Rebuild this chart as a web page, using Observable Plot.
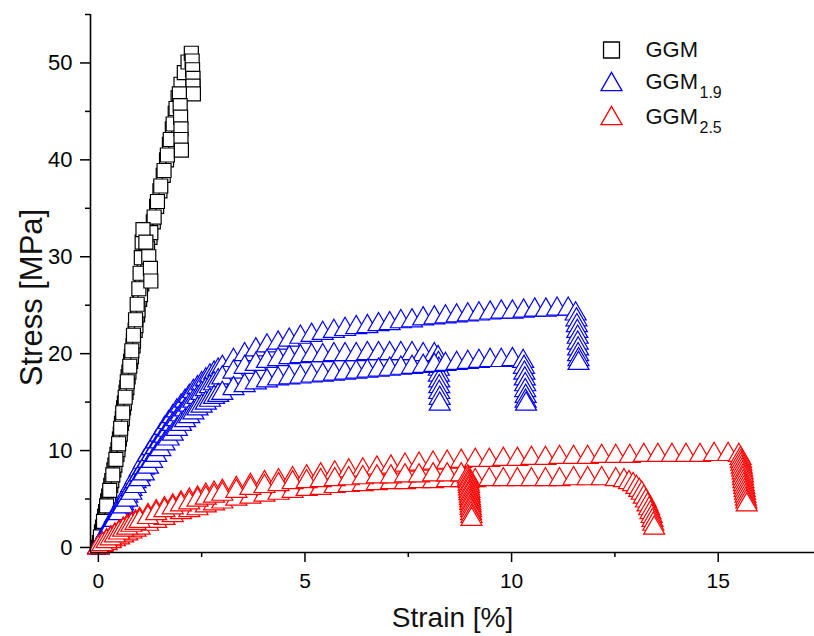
<!DOCTYPE html>
<html><head><meta charset="utf-8">
<script src="https://cdn.jsdelivr.net/npm/d3@7"></script>
<script src="https://cdn.jsdelivr.net/npm/@observablehq/plot@0.6"></script>
<style>body{margin:0;background:#fff}#chart svg{display:block}</style>
</head><body><div id="chart"></div>
<script>
// ---------- DATA (strain in %, stress in MPa) ----------
const ggmA_strain = [0,0.075,0.15,0.225,0.30,0.375,0.45,0.51,0.56,0.61,0.67,0.72,0.78,0.84,0.89,0.95,1.0,1.05,1.11,1.17,1.25,1.33,1.41,1.49,1.57,1.65,1.72,1.79,1.86,1.93,2.0,2.08,2.17,2.25,2.27,2.28,2.29,2.29,2.3];
const ggmA_stress = [0,1.6,3.2,4.8,6.4,8.0,9.6,11.2,12.8,14.4,16.0,17.6,19.2,20.8,22.4,24.0,25.6,27.2,28.8,30.4,32.0,33.6,35.2,36.8,38.4,40.0,41.6,43.2,44.8,46.4,47.8,49.0,50.1,51.0,50.2,49.3,48.4,47.6,46.8];
const ggmB_strain = [0.025,0.10,0.175,0.25,0.325,0.40,0.475,0.53,0.58,0.63,0.69,0.74,0.80,0.85,0.91,0.96,1.02,1.07,1.12,1.19,1.27,1.35,1.43,1.51,1.59,1.67,1.74,1.81,1.88,1.96,1.98,1.99,2.0,2.0,2.01];
const ggmB_stress = [0.5,2.1,3.7,5.3,6.9,8.5,10.1,11.7,13.3,14.9,16.5,18.1,19.7,21.3,22.9,24.5,26.1,27.7,29.3,30.9,32.5,34.1,35.7,37.3,38.9,40.5,42.1,43.7,45.3,46.8,45.6,44.4,43.2,42.1,41.0];
const ggmC_strain = [0.05,0.125,0.20,0.275,0.35,0.425,0.49,0.54,0.59,0.65,0.70,0.76,0.81,0.85,0.90,0.94,0.98,1.01,1.04,1.06,1.08,1.15,1.22,1.26,1.27];
const ggmC_stress = [1.1,2.7,4.3,5.9,7.5,9.1,10.7,12.3,13.9,15.5,17.1,18.7,20.3,21.9,23.5,25.1,26.7,28.3,29.9,31.5,32.8,31.5,30.0,28.8,27.5];

const g19a_strain = [0,0.1,0.2,0.3,0.4,0.5,0.6,0.7,0.8,0.9,1.0,1.1,1.2,1.3,1.4,1.5,1.6,1.7,1.8,1.9,2.0,2.1,2.2,2.3,2.4,2.5,2.6,2.7,2.8,2.9,3.0,
  3.27,3.54,3.81,4.08,4.35,4.62,4.89,5.16,5.43,5.7,5.97,6.24,6.51,6.78,7.05,7.32,7.59,7.86,8.13,8.4,8.67,8.94,9.21,9.48,9.75,10.02,10.29,10.56,10.83,11.1,11.37,
  11.55,11.57,11.58,11.59,11.6,11.6,11.61,11.61,11.62,11.62];
const g19a_stress = [0,0.8,1.6,2.4,3.2,4.0,4.8,5.6,6.4,7.2,8.0,8.8,9.5,10.2,10.9,11.6,12.3,12.9,13.5,14.1,14.6,15.1,15.6,16.1,16.5,16.9,17.3,17.7,18.0,18.3,18.6,
  19.3,19.9,20.4,20.8,21.1,21.4,21.7,21.9,22.1,22.3,22.5,22.7,22.8,23.0,23.1,23.3,23.4,23.6,23.7,23.8,23.9,24.0,24.1,24.2,24.3,24.3,24.4,24.5,24.5,24.6,24.6,
  24.1,23.5,22.9,22.3,21.7,21.1,20.5,19.9,19.4,19.0];
const g19b_strain = [0,0.1,0.2,0.3,0.4,0.5,0.6,0.7,0.8,0.9,1.0,1.1,1.2,1.3,1.4,1.5,1.6,1.7,1.8,1.9,2.0,2.1,2.2,2.3,2.4,2.5,2.6,2.7,2.8,2.9,3.0,
  3.27,3.54,3.81,4.08,4.35,4.62,4.89,5.16,5.43,5.7,5.97,6.24,6.51,6.78,7.05,7.32,7.59,7.86,8.13,
  8.22,8.23,8.24,8.24,8.25,8.25,8.25,8.26,8.26];
const g19b_stress = [0,0.75,1.5,2.3,3.0,3.8,4.5,5.3,6.0,6.8,7.5,8.2,8.9,9.6,10.3,10.9,11.5,12.1,12.7,13.2,13.7,14.2,14.7,15.1,15.5,15.9,16.3,16.6,16.9,17.2,17.5,
  18.1,18.6,18.9,19.2,19.4,19.6,19.7,19.8,19.8,19.9,19.9,19.9,20.0,20.0,20.0,20.0,20.0,19.9,19.9,
  19.6,19.0,18.4,17.8,17.2,16.6,16.0,15.4,14.8];
const g19c_strain = [0,0.1,0.2,0.3,0.4,0.5,0.6,0.7,0.8,0.9,1.0,1.1,1.2,1.3,1.4,1.5,1.6,1.7,1.8,1.9,2.0,2.1,2.2,2.3,2.4,2.5,2.6,2.7,2.8,2.9,3.0,
  3.27,3.54,3.81,4.08,4.35,4.62,4.89,5.16,5.43,5.7,5.97,6.24,6.51,6.78,7.05,7.32,7.59,7.86,8.13,8.4,8.67,8.94,9.21,9.48,9.75,10.02,
  10.28,10.3,10.31,10.32,10.33,10.33,10.34,10.34,10.35];
const g19c_stress = [0,0.7,1.4,2.1,2.8,3.5,4.2,4.9,5.6,6.3,7.0,7.6,8.3,8.9,9.5,10.1,10.7,11.2,11.7,12.2,12.7,13.1,13.5,13.9,14.3,14.6,14.9,15.2,15.5,15.7,15.9,
  16.4,16.7,17.0,17.2,17.4,17.5,17.6,17.7,17.8,17.9,18.0,18.1,18.2,18.3,18.4,18.5,18.6,18.7,18.8,18.9,19.0,19.1,19.2,19.3,19.3,19.4,
  19.2,18.6,18.0,17.4,16.8,16.2,15.6,15.1,14.8];

const g25a_strain = [0,0.1,0.2,0.3,0.4,0.5,0.6,0.7,0.8,0.9,1.0,1.2,1.4,1.6,1.8,2.0,2.2,2.4,2.6,2.8,3.0,
  3.34,3.68,4.02,4.36,4.7,5.04,5.38,5.72,6.06,6.4,6.74,7.08,7.42,7.76,8.1,8.44,8.78,9.12,9.46,9.8,10.14,10.48,10.82,11.16,11.5,11.84,12.18,12.52,12.86,13.2,13.54,13.88,14.22,14.56,14.9,15.24,15.5,
  15.54,15.55,15.56,15.57,15.58,15.59,15.6,15.6,15.61,15.62,15.63,15.64,15.65,15.66,15.67,15.68,15.69];
const g25a_stress = [0,0.35,0.7,1.0,1.3,1.6,1.9,2.2,2.4,2.65,2.9,3.3,3.7,4.0,4.3,4.6,4.9,5.1,5.4,5.6,5.8,
  6.1,6.4,6.7,6.9,7.1,7.3,7.5,7.7,7.9,8.0,8.2,8.3,8.5,8.6,8.7,8.8,8.9,9.0,9.0,9.1,9.1,9.2,9.2,9.3,9.3,9.3,9.4,9.4,9.4,9.5,9.5,9.5,9.5,9.5,9.6,9.6,9.5,
  9.2,8.9,8.6,8.3,8.0,7.7,7.4,7.1,6.8,6.5,6.2,5.9,5.6,5.3,5.0,4.7,4.4];
const g25b_strain = [0,0.1,0.2,0.3,0.4,0.5,0.6,0.7,0.8,0.9,1.0,1.2,1.4,1.6,1.8,2.0,2.2,2.4,2.6,2.8,3.0,
  3.34,3.68,4.02,4.36,4.7,5.04,5.38,5.72,6.06,6.4,6.74,7.08,7.42,7.76,8.1,8.44,8.78,9.12,9.46,9.8,10.14,10.48,10.82,11.16,11.5,11.84,12.18,12.52,
  12.72,12.84,12.94,13.02,13.09,13.15,13.2,13.25,13.29,13.33,13.36,13.39,13.41,13.43,13.45];
const g25b_stress = [0,0.2,0.4,0.6,0.8,1.0,1.2,1.4,1.6,1.8,2.0,2.4,2.7,3.0,3.3,3.6,3.8,4.0,4.3,4.5,4.7,
  5.0,5.2,5.4,5.6,5.8,6.0,6.1,6.3,6.4,6.5,6.6,6.7,6.7,6.8,6.8,6.9,6.9,6.9,7.0,7.0,7.0,7.0,7.0,7.0,7.1,7.1,7.1,7.0,
  6.9,6.7,6.5,6.2,5.9,5.6,5.2,4.8,4.4,4.0,3.6,3.2,2.8,2.4,2.0];
const g25c_strain = [0,0.1,0.2,0.3,0.4,0.5,0.6,0.7,0.8,0.9,1.0,1.2,1.4,1.6,1.8,2.0,2.2,2.4,2.6,2.8,3.0,
  3.34,3.68,4.02,4.36,4.7,5.04,5.38,5.72,6.06,6.4,6.74,7.08,7.42,7.76,8.1,8.44,8.78,
  8.94,8.95,8.96,8.96,8.97,8.97,8.98,8.98,8.99,8.99,9.0,9.0,9.01,9.01,9.02,9.02,9.03,9.03];
const g25c_stress = [0,0.3,0.6,0.9,1.2,1.5,1.8,2.0,2.3,2.5,2.7,3.1,3.5,3.8,4.1,4.4,4.6,4.9,5.1,5.3,5.5,
  5.8,6.1,6.3,6.5,6.7,6.8,6.9,7.0,7.1,7.2,7.3,7.3,7.4,7.4,7.5,7.5,7.5,
  7.3,7.05,6.8,6.55,6.3,6.05,5.8,5.55,5.3,5.05,4.8,4.55,4.3,4.05,3.8,3.5,3.2,2.9];

const xTicks = [0,5,10,15];
const xMinor = [2.5,7.5,12.5];
const yTicks = [0,10,20,30,40,50];
const yMinor = [5,15,25,35,45,55];
const legendNames = ["GGM","GGM","GGM"];
const legendSubs = ["","1.9","2.5"];

// ---------- CHART ----------
const BLACK = "#000000", BLUE = "#0000ff", RED = "#ff0000";
const curves = [
  {s: ggmA_strain, t: ggmA_stress, color: BLACK, symbol: "square", r: 7.9},
  {s: ggmB_strain, t: ggmB_stress, color: BLACK, symbol: "square", r: 7.9},
  {s: ggmC_strain, t: ggmC_stress, color: BLACK, symbol: "square", r: 7.9},
  {s: g19a_strain, t: g19a_stress, color: BLUE, symbol: "triangle", r: 7.8},
  {s: g19b_strain, t: g19b_stress, color: BLUE, symbol: "triangle", r: 7.8},
  {s: g19c_strain, t: g19c_stress, color: BLUE, symbol: "triangle", r: 7.8},
  {s: g25a_strain, t: g25a_stress, color: RED, symbol: "triangle", r: 7.8},
  {s: g25b_strain, t: g25b_stress, color: RED, symbol: "triangle", r: 7.8},
  {s: g25c_strain, t: g25c_stress, color: RED, symbol: "triangle", r: 7.8}
];

const marks = [];
for (const c of curves) {
  const n = Math.min(c.s.length, c.t.length);
  const data = d3.range(n).map(i => ({strain: c.s[i], stress: c.t[i]}));
  marks.push(Plot.line(data, {x: "strain", y: "stress", stroke: c.color, strokeWidth: 1.3}));
  marks.push(Plot.dot(data, {x: "strain", y: "stress", symbol: c.symbol, r: c.r, stroke: c.color, fill: "white", strokeWidth: 1.2}));
}

const legendColors = [BLACK, BLUE, RED];
const legendSymbols = ["square", "triangle", "triangle"];
const legendR = [9, 7.8, 7.8];
const symDy = [35.5, 70, 104];
const textDy = [35.5, 67.7, 102.5];
const subDy = [0, 78.5, 113];
legendNames.forEach((name, i) => {
  marks.push(Plot.dot([0], {frameAnchor: "top-left", dx: 521, dy: symDy[i], symbol: legendSymbols[i], r: legendR[i], stroke: legendColors[i], fill: "white", strokeWidth: 1.3}));
  marks.push(Plot.text([name], {frameAnchor: "top-left", dx: 555, dy: textDy[i], text: d => d, textAnchor: "start", lineAnchor: "middle", fontSize: 22, fill: "#111"}));
  if (legendSubs[i]) marks.push(Plot.text([legendSubs[i]], {frameAnchor: "top-left", dx: 609, dy: subDy[i], text: d => d, textAnchor: "start", lineAnchor: "middle", fontSize: 16, fill: "#111"}));
});

const chart = Plot.plot({
  width: 814, height: 636,
  marginLeft: 90, marginRight: 0, marginTop: 14, marginBottom: 84,
  style: {fontFamily: "'Liberation Sans', Arial, sans-serif", background: "white", color: "black"},
  x: {domain: [-0.19, 17.33], label: null},
  y: {domain: [-0.52, 55], label: null},
  marks: [
    ...marks,
    Plot.ruleX([-0.19], {stroke: "black", strokeWidth: 1.6}),
    Plot.ruleY([-0.52], {stroke: "black", strokeWidth: 1.6}),
    Plot.axisX(xTicks, {tickSize: 10, tickPadding: 11, fontSize: 21, strokeWidth: 1.5, tickFormat: d => String(d)}),
    Plot.axisX(xMinor, {tickSize: 5, strokeWidth: 1.5, tickFormat: () => ""}),
    Plot.axisY(yTicks, {tickSize: 10, tickPadding: 8, fontSize: 22, strokeWidth: 1.5, tickFormat: d => String(d)}),
    Plot.axisY(yMinor, {tickSize: 5, strokeWidth: 1.5, tickFormat: () => ""}),
    Plot.text(["Strain [%]"], {frameAnchor: "bottom", dy: 66, text: d => d, fontSize: 28, textAnchor: "middle", lineAnchor: "middle", fill: "#111"}),
    Plot.text(["Stress [MPa]"], {frameAnchor: "left", dx: -58, dy: 14, rotate: -90, text: d => d, fontSize: 31, textAnchor: "middle", lineAnchor: "middle", fill: "#111"})
  ]
});
document.getElementById("chart").appendChild(chart);
</script>
</body></html>
